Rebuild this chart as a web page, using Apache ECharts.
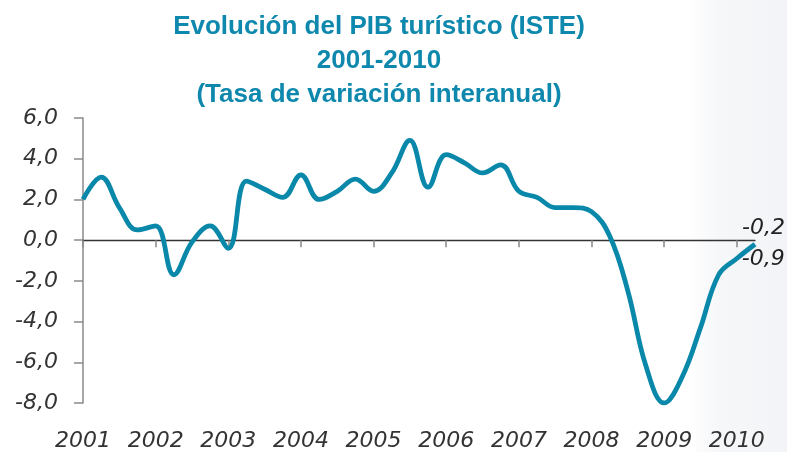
<!DOCTYPE html>
<html>
<head>
<meta charset="utf-8">
<script src="https://cdn.jsdelivr.net/npm/echarts@6/dist/echarts.min.js"></script>
<style>
  html, body { margin: 0; padding: 0; background: #fff; }
  #chart { width: 787px; height: 452px; }
</style>
</head>
<body>
<div id="chart"></div>
<script>
// trimestres 2001 T1 - 2010 T2
const quarters = [
  '2001-T1', '2001-T2', '2001-T3', '2001-T4',
  '2002-T1', '2002-T2', '2002-T3', '2002-T4',
  '2003-T1', '2003-T2', '2003-T3', '2003-T4',
  '2004-T1', '2004-T2', '2004-T3', '2004-T4',
  '2005-T1', '2005-T2', '2005-T3', '2005-T4',
  '2006-T1', '2006-T2', '2006-T3', '2006-T4',
  '2007-T1', '2007-T2', '2007-T3', '2007-T4',
  '2008-T1', '2008-T2', '2008-T3', '2008-T4',
  '2009-T1', '2009-T2', '2009-T3', '2009-T4',
  '2010-T1', '2010-T2'
]
// tasa de variacion interanual (%)
const pibTuristico = [
  2.0, 3.1, 1.6, 0.5,
  0.7, -1.7, -0.1, 0.7,
  -0.4, 2.9, 2.5, 2.1,
  3.2, 2.0, 2.4, 3.0,
  2.4, 3.3, 4.9, 2.6,
  4.2, 3.8, 3.3, 3.7,
  2.4, 2.1, 1.6, 1.6,
  1.4, 0.2, -2.5, -6.2,
  -8.0, -6.7, -4.3, -1.7,
  -0.9, -0.2
]
const yTicks = [-8, -6, -4, -2, 0, 2, 4, 6]

const lineColor = '#0a88a9'
const titleColor = '#0f88ad'
const fmt = v => v.toFixed(1).replace('.', ',')

const chart = echarts.init(document.getElementById('chart'))

// solo los dos ultimos trimestres llevan etiqueta
const lastIdx = pibTuristico.length - 1
const seriesData = pibTuristico.map((v, i) => {
  if (i === lastIdx) {
    return { value: v, label: { show: true, position: [-13, -27] } }
  }
  if (i === lastIdx - 1) {
    return { value: v, label: { show: true, position: [5, -10] } }
  }
  return v
})

const option = {
  animation: false,
  backgroundColor: '#fff',
  graphic: [{
    type: 'rect',
    left: 690, top: 0, z: -10,
    shape: { width: 97, height: 452 },
    style: {
      fill: new echarts.graphic.LinearGradient(0, 0, 1, 0, [
        { offset: 0, color: 'rgba(244,245,248,0)' },
        { offset: 0.3, color: '#f6f7f9' },
        { offset: 1, color: '#f3f4f7' }
      ])
    }
  }],
  title: {
    text: 'Evolución del PIB turístico (ISTE)\n2001-2010\n(Tasa de variación interanual)',
    left: 374,
    top: 5,
    textAlign: 'center',
    textStyle: {
      fontFamily: 'Liberation Sans, Arial, sans-serif',
      fontWeight: 'bold',
      fontSize: 26,
      lineHeight: 34,
      color: titleColor
    }
  },
  grid: { left: 83, right: 32, top: 118, bottom: 49, containLabel: false },
  xAxis: [
    {
      type: 'category',
      position: 'bottom',
      data: quarters,
      boundaryGap: false,
      axisLine: { show: false, onZero: false },
      axisTick: { show: false },
      axisLabel: {
        interval: 3,
        margin: 27,
        formatter: v => v.slice(0, 4),
        fontFamily: 'DejaVu Sans',
        fontStyle: 'italic',
        fontSize: 22,
        color: '#333'
      },
      splitLine: { show: false }
    },
    {
      type: 'category',
      position: 'top',
      data: quarters,
      boundaryGap: false,
      axisLine: { show: true, onZero: true, lineStyle: { color: '#333', width: 1.3 } },
      axisTick: { show: true, inside: true, interval: 3, length: 7, lineStyle: { color: '#888', width: 1.5 } },
      axisLabel: { show: false },
      splitLine: { show: false }
    }
  ],
  yAxis: {
    type: 'value',
    min: yTicks[0],
    max: yTicks[yTicks.length - 1],
    interval: 2,
    axisLine: { show: true, lineStyle: { color: '#8a8a8a', width: 1.5 } },
    axisTick: { show: true, length: 9, lineStyle: { color: '#8a8a8a', width: 1.5 } },
    splitLine: { show: false },
    axisLabel: {
      margin: 25,
      formatter: fmt,
      fontFamily: 'DejaVu Sans',
      fontStyle: 'italic',
      fontSize: 22,
      color: '#333'
    }
  },
  series: [{
    name: 'PIB turístico',
    type: 'line',
    xAxisIndex: 0,
    data: seriesData,
    smooth: 0.4,
    showSymbol: true,
    symbol: 'circle',
    symbolSize: 0.1,
    itemStyle: { color: 'rgba(0,0,0,0)' },
    lineStyle: { color: lineColor, width: 4.8 },
    label: {
      show: false,
      formatter: p => fmt(p.value),
      fontFamily: 'DejaVu Sans',
      fontStyle: 'italic',
      fontSize: 22,
      color: '#222'
    },
    labelLayout: { hideOverlap: false }
  }]
}

chart.setOption(option)
</script>
</body>
</html>
